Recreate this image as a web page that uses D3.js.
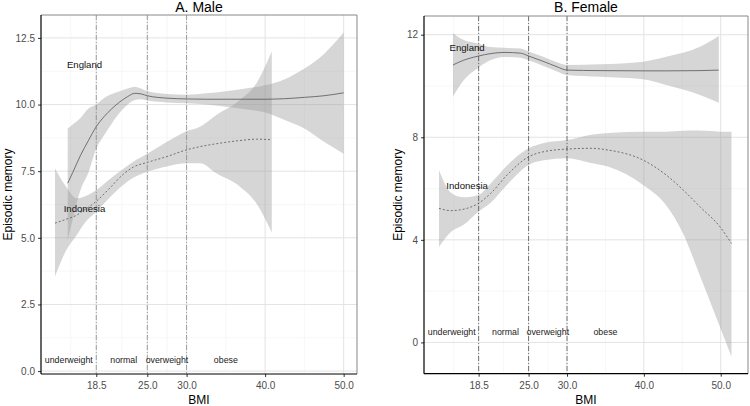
<!DOCTYPE html>
<html><head><meta charset="utf-8">
<script src="https://cdn.jsdelivr.net/npm/d3@7"></script>
<style>body{margin:0;background:#fff}svg{display:block;font-family:"Liberation Sans",Arial,sans-serif}</style>
</head><body><svg id="c" width="750" height="406"></svg>
<script>
// ---------- data ----------
const xTicks = [18.5, 25, 30, 40, 50];
const cutoffs = [18.5, 25, 30];
const bmiCategories = ["underweight", "normal", "overweight", "obese"];
const categoryX = [15, 22, 27.5, 35];
const categoryY = 0.4;
const groupNames = ["England", "Indonesia"];

// Panel A: Male
const maleYTicks = [0, 2.5, 5, 7.5, 10, 12.5];
const maleEngBmi = [14.86, 15.5, 16.5, 17.5, 18.5, 19.5, 20.5, 21.5, 22.5, 23.4, 24.2, 25, 27.5, 30, 32.5, 35, 37.5, 40, 42.5, 45, 47.5, 50];
const maleEngFit = [7.05, 7.45, 8.1, 8.65, 9.17, 9.55, 9.85, 10.1, 10.3, 10.42, 10.4, 10.33, 10.24, 10.21, 10.2, 10.2, 10.2, 10.2, 10.22, 10.27, 10.33, 10.44];
const maleEngLo  = [4.9, 5.7, 6.8, 7.45, 8.35, 8.85, 9.3, 9.7, 10.0, 10.17, 10.2, 10.15, 10.08, 10.05, 10.0, 9.92, 9.82, 9.7, 9.42, 9.1, 8.6, 8.15];
const maleEngHi  = [9.1, 9.25, 9.5, 9.85, 10.0, 10.25, 10.4, 10.5, 10.6, 10.67, 10.6, 10.5, 10.4, 10.37, 10.42, 10.5, 10.6, 10.72, 10.95, 11.35, 11.9, 12.7];
const maleIdnBmi = [13.24, 14.7, 16, 17, 18.5, 20, 22, 23.2, 25, 27.5, 30, 31.7, 33.8, 36.8, 38.9, 40.85];
const maleIdnFit = [5.55, 5.7, 5.85, 6.05, 6.37, 6.8, 7.4, 7.65, 7.83, 8.05, 8.3, 8.42, 8.53, 8.65, 8.7, 8.68];
const maleIdnLo  = [3.55, 4.55, 5.1, 5.55, 5.98, 6.45, 7.0, 7.25, 7.48, 7.68, 7.8, 7.8, 7.42, 6.92, 6.29, 5.2];
const maleIdnHi  = [7.6, 6.9, 6.48, 6.55, 6.79, 7.15, 7.6, 7.85, 8.15, 8.6, 9.0, 9.17, 9.61, 10.17, 10.8, 12.0];
const maleLabelPos = [[17, 11.5], [17, 6.1]];

// Panel B: Female
const femaleYTicks = [0, 4, 8, 12];
const femEngBmi = [15.16, 16.5, 18.5, 20, 21.8, 23.96, 25, 27, 28.7, 30, 34.3, 39.9, 42.9, 47.3, 49.75];
const femEngFit = [10.82, 11.0, 11.17, 11.26, 11.31, 11.28, 11.17, 10.95, 10.75, 10.62, 10.6, 10.59, 10.59, 10.6, 10.62];
const femEngLo  = [9.58, 10.2, 10.72, 11.0, 11.13, 11.1, 11.0, 10.77, 10.57, 10.43, 10.36, 10.26, 10.04, 9.65, 9.35];
const femEngHi  = [12.06, 11.8, 11.65, 11.52, 11.49, 11.46, 11.35, 11.13, 10.93, 10.82, 10.85, 10.95, 11.14, 11.53, 11.95];
const femIdnBmi = [13.34, 14.86, 16.59, 18.45, 20.06, 22.2, 25, 27, 30, 33.1, 35.4, 39.9, 42.9, 45.1, 47.3, 49.9, 51.4];
const femIdnFit = [5.23, 5.14, 5.2, 5.42, 5.81, 6.53, 7.24, 7.44, 7.54, 7.57, 7.5, 7.11, 6.53, 5.95, 5.29, 4.51, 3.86];
const femIdnLo  = [3.73, 4.3, 4.6, 5.1, 5.45, 6.15, 6.92, 7.1, 7.18, 7.0, 6.85, 6.14, 5.35, 4.25, 2.6, 0.6, -0.56];
const femIdnHi  = [6.72, 5.85, 5.66, 5.75, 6.2, 6.9, 7.57, 7.78, 7.89, 8.1, 8.17, 8.22, 8.22, 8.25, 8.26, 8.22, 8.22];
const femaleLabelPos = [[17, 11.5], [17, 6.1]];

// ---------- drawing ----------
const svg = d3.select("#c");
const toRows = (b, f, lo, hi) => b.map((x, i) => ({x, f: f[i], lo: lo[i], hi: hi[i]}));

function panel(cfg) {
  const x = d3.scaleLinear().domain(cfg.xDomain).range([cfg.left, cfg.right]);
  const y = d3.scaleLinear().domain(cfg.yDomain).range([cfg.bottom, cfg.top]);
  const g = svg.append("g");
  const clipId = "clip" + cfg.id;
  svg.append("clipPath").attr("id", clipId).append("rect")
    .attr("x", cfg.left).attr("y", cfg.top).attr("width", cfg.right - cfg.left).attr("height", cfg.bottom - cfg.top);

  // minor grid
  const xMinor = [];
  const xt = cfg.xTicks;
  xMinor.push(xt[0] - (xt[1] - xt[0]) / 2);
  for (let i = 0; i < xt.length - 1; i++) xMinor.push((xt[i] + xt[i + 1]) / 2);
  const yt = cfg.yTicks;
  const yMinor = [];
  for (let i = 0; i < yt.length - 1; i++) yMinor.push((yt[i] + yt[i + 1]) / 2);
  yMinor.push(yt[yt.length - 1] + (yt[1] - yt[0]) / 2);
  const grid = g.append("g");
  grid.selectAll(".xm").data(xMinor.filter(v => v > cfg.xDomain[0] && v < cfg.xDomain[1])).join("line")
    .attr("x1", d => x(d)).attr("x2", d => x(d)).attr("y1", cfg.top).attr("y2", cfg.bottom)
    .attr("stroke", "#f2f2f2").attr("stroke-width", 0.6);
  grid.selectAll(".ym").data(yMinor.filter(v => v > cfg.yDomain[0] && v < cfg.yDomain[1])).join("line")
    .attr("y1", d => y(d)).attr("y2", d => y(d)).attr("x1", cfg.left).attr("x2", cfg.right)
    .attr("stroke", "#f2f2f2").attr("stroke-width", 0.6);
  grid.selectAll(".xM").data(xt).join("line")
    .attr("x1", d => x(d)).attr("x2", d => x(d)).attr("y1", cfg.top).attr("y2", cfg.bottom)
    .attr("stroke", "#e3e3e3").attr("stroke-width", 1);
  grid.selectAll(".yM").data(yt).join("line")
    .attr("y1", d => y(d)).attr("y2", d => y(d)).attr("x1", cfg.left).attr("x2", cfg.right)
    .attr("stroke", "#e3e3e3").attr("stroke-width", 1);

  const plot = g.append("g").attr("clip-path", `url(#${clipId})`);
  const area = d3.area().x(d => x(d.x)).y0(d => y(d.lo)).y1(d => y(d.hi)).curve(d3.curveMonotoneX);
  const line = d3.line().x(d => x(d.x)).y(d => y(d.f)).curve(d3.curveMonotoneX);
  cfg.series.forEach(s => {
    plot.append("path").attr("d", area(s.rows)).attr("fill", "#999").attr("fill-opacity", 0.4);
  });
  cfg.series.forEach(s => {
    plot.append("path").attr("d", line(s.rows)).attr("fill", "none")
      .attr("stroke", "#555").attr("stroke-width", 0.8)
      .attr("stroke-dasharray", s.dash || null);
  });

  // cutoff lines
  plot.selectAll(".cut").data(cutoffs).join("line")
    .attr("x1", d => x(d)).attr("x2", d => x(d)).attr("y1", cfg.top).attr("y2", cfg.bottom)
    .attr("stroke", cfg.cutColor).attr("stroke-width", 0.8).attr("stroke-dasharray", "5,2,1,2");

  // text annotations
  plot.selectAll(".cat").data(bmiCategories).join("text")
    .attr("x", (d, i) => x(categoryX[i])).attr("y", y(categoryY)).attr("dy", "0.35em")
    .attr("text-anchor", "middle").attr("font-size", 8.8).attr("fill", "#222").text(d => d);
  plot.selectAll(".grp").data(groupNames).join("text")
    .attr("x", (d, i) => x(cfg.labelPos[i][0])).attr("y", (d, i) => y(cfg.labelPos[i][1])).attr("dy", "0.35em")
    .attr("text-anchor", "middle").attr("font-size", 9.6).attr("fill", "#111").text(d => d);

  // border
  g.append("line").attr("x1", cfg.left).attr("x2", cfg.right).attr("y1", cfg.top).attr("y2", cfg.top).attr("stroke", "#888").attr("stroke-width", 1);
  g.append("line").attr("x1", cfg.right).attr("x2", cfg.right).attr("y1", cfg.top).attr("y2", cfg.bottom).attr("stroke", "#888").attr("stroke-width", 1);

  // axes
  const xa = g.append("g").attr("transform", `translate(0,${cfg.bottom})`)
    .call(d3.axisBottom(x).tickValues(xt).tickFormat(d3.format(".1f")).tickSize(3).tickPadding(5));
  const ya = g.append("g").attr("transform", `translate(${cfg.left},0)`)
    .call(d3.axisLeft(y).tickValues(yt).tickFormat(cfg.yFormat).tickSize(3).tickPadding(3));
  [xa, ya].forEach(a => {
    a.select(".domain").remove();
    a.selectAll(".tick line").attr("stroke", "#333");
    a.selectAll("text").attr("font-size", 10).attr("fill", "#4d4d4d").attr("font-family", '"Liberation Sans",Arial,sans-serif');
  });
  g.append("line").attr("x1", cfg.left).attr("x2", cfg.right).attr("y1", cfg.bottom).attr("y2", cfg.bottom).attr("stroke", "#000").attr("stroke-width", 1.2);
  g.append("line").attr("x1", cfg.left).attr("x2", cfg.left).attr("y1", cfg.top).attr("y2", cfg.bottom).attr("stroke", "#000").attr("stroke-width", 1.2);

  // titles
  const cx = (cfg.left + cfg.right) / 2;
  g.append("text").attr("x", cx).attr("y", 12).attr("text-anchor", "middle").attr("font-size", 14).attr("fill", "#000").text(cfg.title);
  g.append("text").attr("x", cx).attr("y", 404).attr("text-anchor", "middle").attr("font-size", 12).attr("fill", "#000").text("BMI");
  g.append("text").attr("transform", `translate(${cfg.yTitleX},${(cfg.top + cfg.bottom) / 2}) rotate(-90)`)
    .attr("text-anchor", "middle").attr("font-size", 12).attr("fill", "#000").text("Episodic memory");
}

panel({
  id: "A", title: "A. Male", left: 41, right: 357, top: 15, bottom: 374,
  xDomain: [11.46, 51.7], yDomain: [-0.11, 13.36], xTicks, yTicks: maleYTicks, yFormat: d3.format(".1f"),
  yTitleX: 12, cutColor: "#8c8c8c", labelPos: maleLabelPos,
  series: [
    {rows: toRows(maleEngBmi, maleEngFit, maleEngLo, maleEngHi)},
    {rows: toRows(maleIdnBmi, maleIdnFit, maleIdnLo, maleIdnHi), dash: "2,2"}
  ]
});
panel({
  id: "B", title: "B. Female", left: 424, right: 748, top: 16, bottom: 373.7,
  xDomain: [11.39, 53.55], yDomain: [-1.22, 12.73], xTicks, yTicks: femaleYTicks, yFormat: d3.format("d"),
  yTitleX: 402, cutColor: "#555", labelPos: femaleLabelPos,
  series: [
    {rows: toRows(femEngBmi, femEngFit, femEngLo, femEngHi)},
    {rows: toRows(femIdnBmi, femIdnFit, femIdnLo, femIdnHi), dash: "2,2"}
  ]
});
</script></body></html>
